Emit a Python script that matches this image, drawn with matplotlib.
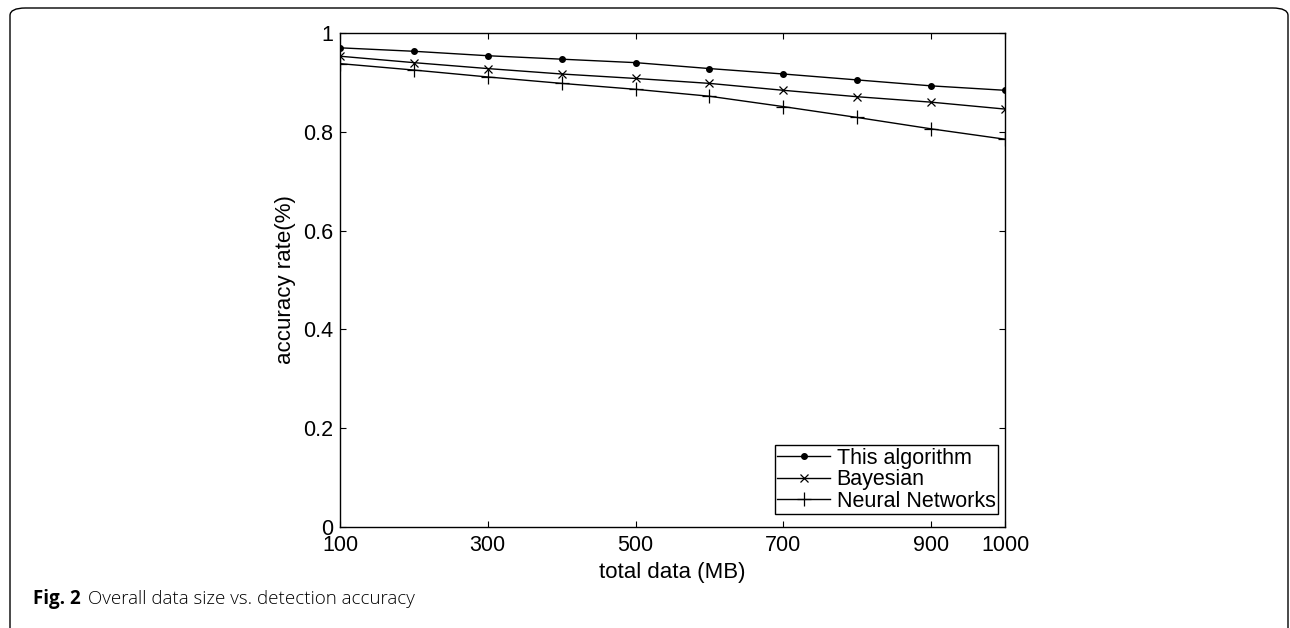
import matplotlib
matplotlib.use("Agg")
import matplotlib.pyplot as plt
from matplotlib.patches import FancyBboxPatch

sizes = [100, 200, 300, 400, 500, 600, 700, 800, 900, 1000]
this_algorithm = [0.970, 0.963, 0.954, 0.947, 0.940, 0.928, 0.917, 0.905, 0.893, 0.884]
bayesian = [0.953, 0.940, 0.928, 0.917, 0.908, 0.898, 0.884, 0.871, 0.860, 0.846]
neural = [0.938, 0.925, 0.911, 0.898, 0.886, 0.872, 0.851, 0.829, 0.806, 0.785]
xticks = [100, 300, 500, 700, 900, 1000]
yticks = [0, 0.2, 0.4, 0.6, 0.8, 1]
yticklabels = ["0", "0.2", "0.4", "0.6", "0.8", "1"]

plt.rcParams['font.family'] = ['Liberation Sans', 'DejaVu Sans']

fig = plt.figure(figsize=(12.9, 6.28), dpi=100)
ax = fig.add_axes([340/1290, 1-527/628, 665/1290, 494/628])

lw = 1.0
ax.plot(sizes, this_algorithm, color='black', lw=lw, marker='.', markersize=8, label='This algorithm')
ax.plot(sizes, bayesian, color='black', lw=lw, marker='x', markersize=5.5, markeredgewidth=0.9, label='Bayesian')
ax.plot(sizes, neural, color='black', lw=lw, marker='+', markersize=9.5, markeredgewidth=0.9, label='Neural Networks')

ax.set_xlim(100, 1000)
ax.set_ylim(0, 1)
ax.set_xticks(xticks)
ax.set_xticklabels([str(t) for t in xticks])
ax.set_yticks(yticks)
ax.set_yticklabels(yticklabels)
ax.tick_params(axis='both', direction='in', top=True, right=True, labelsize=15.5, length=4, width=0.8)
ax.tick_params(axis='x', pad=6)
ax.tick_params(axis='y', pad=5)
for s in ax.spines.values():
    s.set_linewidth(1.0)
ax.set_xlabel('total data (MB)', fontsize=16, labelpad=4)
ax.set_ylabel('accuracy rate(%)', fontsize=16, labelpad=5)

leg = ax.legend(loc='lower right', bbox_to_anchor=(0.9895, 0.026), fontsize=15.5,
                frameon=True, fancybox=False, edgecolor='black', framealpha=1,
                borderpad=0.12, labelspacing=0.02, handlelength=2.45, handletextpad=0.3,
                borderaxespad=0)
leg.get_frame().set_linewidth(1.0)

# outer rounded frame (bottom edge runs off the picture)
frame = FancyBboxPatch((10/1290, -0.05), 1278/1290, (628-8)/628 + 0.05,
                       boxstyle="round,pad=0,rounding_size=0.012",
                       transform=fig.transFigure, fill=False, edgecolor='black',
                       linewidth=1.0, clip_on=False)
fig.patches.append(frame)

fig.text(33/1290, 1-604/628, 'Fig. 2', fontsize=13.5, fontweight='bold',
         family=['Open Sans', 'DejaVu Sans'], va='baseline', ha='left')
fig.text(88/1290, 1-604/628, 'Overall data size vs. detection accuracy', fontsize=13.5,
         fontweight='light', family=['Open Sans', 'DejaVu Sans'], va='baseline', ha='left')

fig.savefig('out.png', dpi=100)
